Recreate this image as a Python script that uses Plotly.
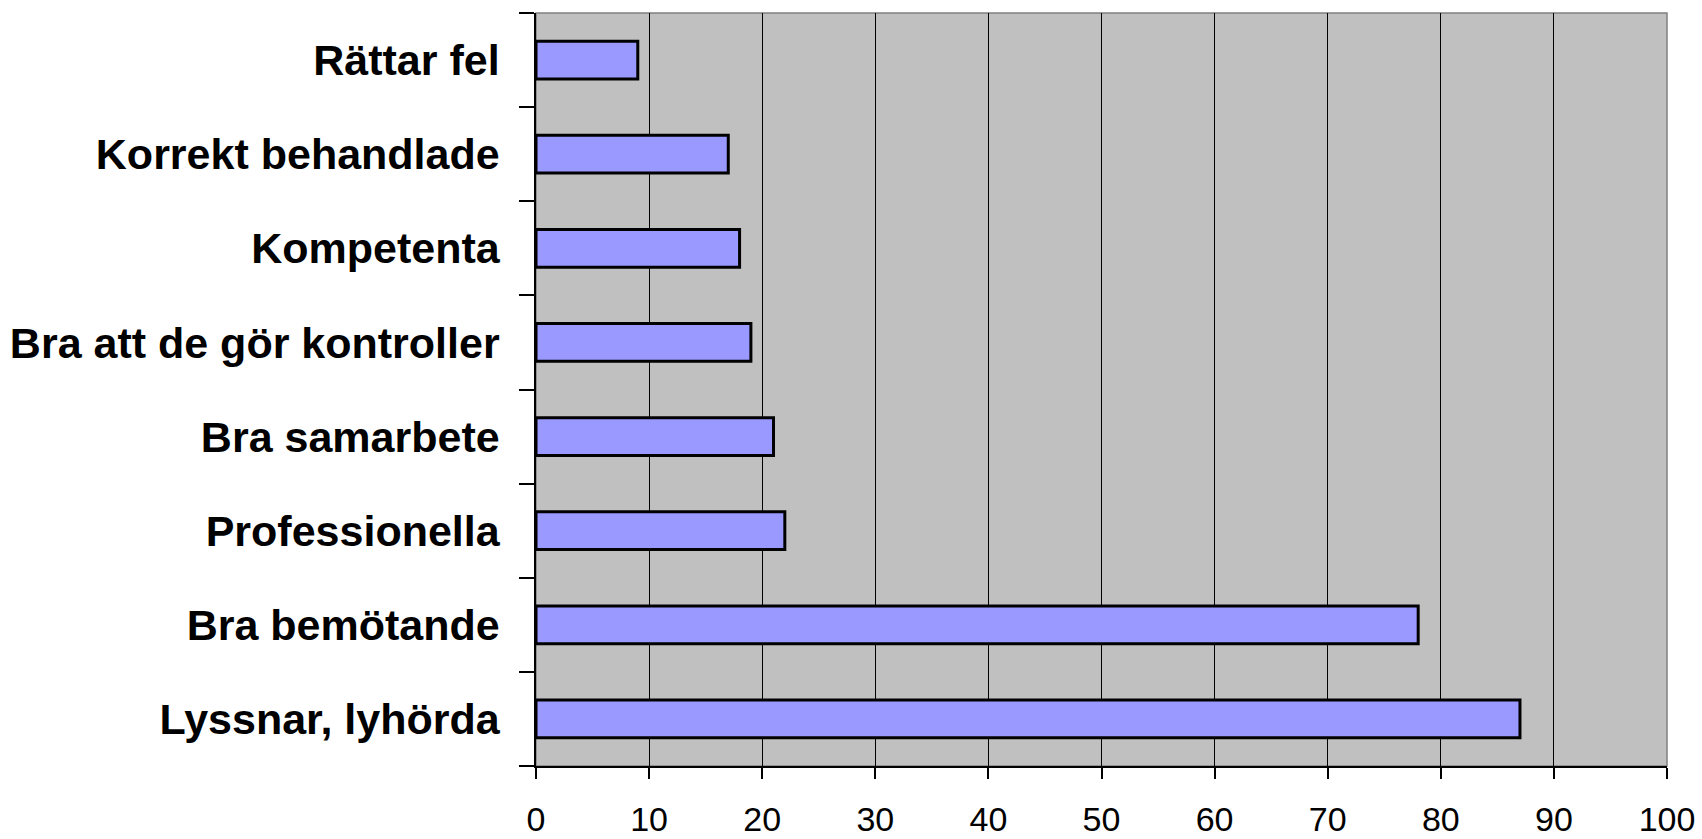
import plotly.graph_objects as go

categories = ["Lyssnar, lyhörda", "Bra bemötande", "Professionella", "Bra samarbete",
              "Bra att de gör kontroller", "Kompetenta", "Korrekt behandlade", "Rättar fel"]
values = [87, 78, 22, 21, 19, 18, 17, 9]
x_ticks = [0, 10, 20, 30, 40, 50, 60, 70, 80, 90, 100]

fig = go.Figure()
fig.add_trace(go.Bar(
    y=categories, x=values, orientation="h",
    marker=dict(color="#9999FF", line=dict(color="#000000", width=3)),
    hoverinfo="x+y",
))

fig.update_layout(
    width=1702, height=839,
    margin=dict(l=536, r=35, t=13, b=73),
    paper_bgcolor="#FFFFFF",
    plot_bgcolor="#C0C0C0",
    bargap=0.6,
    showlegend=False,
    font=dict(family="Liberation Sans, Arial, sans-serif", color="#000000"),
    shapes=[dict(type="rect", xref="paper", yref="paper", x0=0, x1=1, y0=0, y1=1,
                 line=dict(color="#808080", width=1.5), layer="below")],
)
fig.update_xaxes(
    range=[0, 100], tickvals=x_ticks, ticktext=[str(t) for t in x_ticks],
    showgrid=True, gridcolor="#000000", gridwidth=1,
    showline=True, linecolor="#000000", linewidth=1.5,
    ticks="outside", ticklen=11, tickcolor="#000000", tickwidth=1.5,
    tickfont=dict(size=34, family="Liberation Sans, Arial, sans-serif"),
    ticklabelstandoff=11,
    automargin=False,
    zeroline=False, fixedrange=True,
)
fig.update_yaxes(
    categoryorder="array", categoryarray=categories,
    showgrid=False,
    showline=True, linecolor="#000000", linewidth=1.5,
    ticks="outside", ticklen=15, tickcolor="#000000", tickwidth=1.5,
    tickson="boundaries",
    tickfont=dict(size=43, family="Liberation Sans, Arial, sans-serif", weight="bold"),
    ticklabelstandoff=26,
    automargin=False,
    fixedrange=True,
)

fig.write_html("out.html")
